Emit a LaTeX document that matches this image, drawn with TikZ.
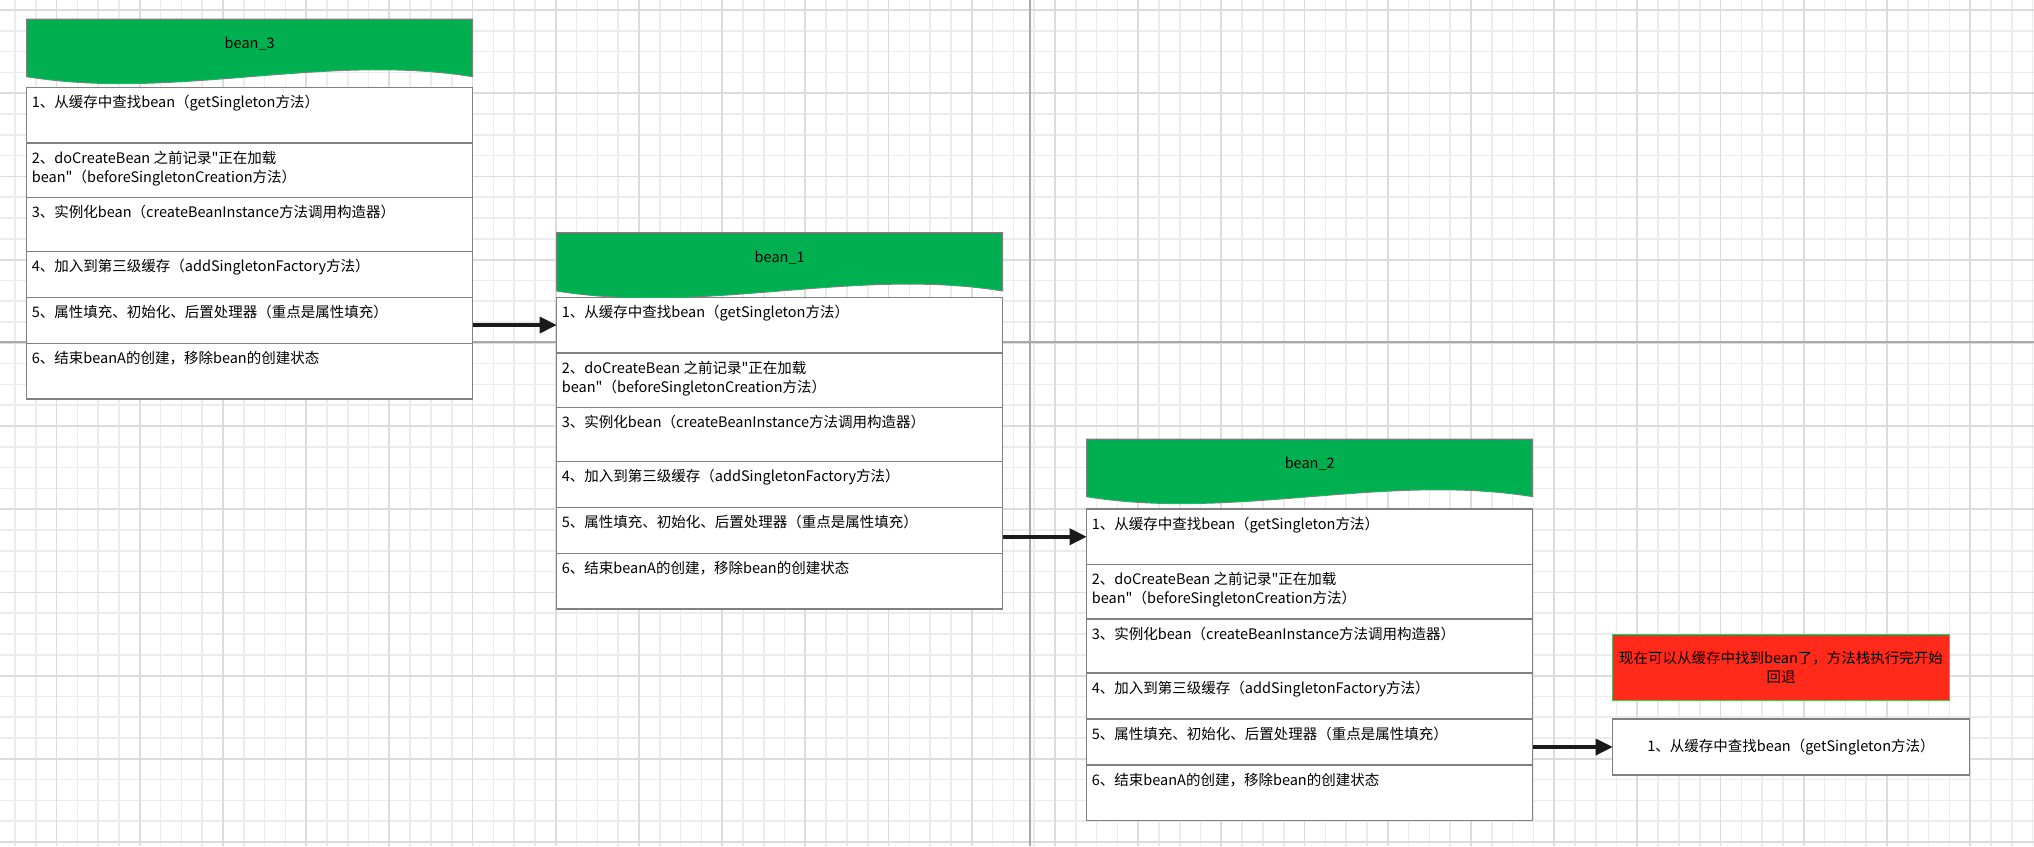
\documentclass[tikz,border=0pt]{standalone}
\usepackage{fontspec}
\setmainfont{Noto Sans CJK SC}
\newfontfamily\zhfont{Noto Sans CJK SC}
\usetikzlibrary{arrows.meta,calc}
\definecolor{hdrgreen}{RGB}{0,176,80}
\definecolor{boxgray}{RGB}{128,128,128}
\definecolor{alertred}{RGB}{255,42,26}
\definecolor{alertedge}{RGB}{100,180,100}
\definecolor{gridminor}{RGB}{236,236,236}
\definecolor{gridmajor}{RGB}{220,220,220}
\definecolor{gridpage}{RGB}{170,170,170}
\definecolor{arrowblack}{RGB}{26,26,26}
\tikzset{
  rowbox/.style={draw=boxgray, line width=1.5pt, fill=white, minimum width=446pt, anchor=north west, inner sep=0pt, outer sep=0pt},
  rowtext/.style={anchor=north west, inner sep=0pt, align=left, font=\zhfont\fontsize{14.5}{19}\selectfont},
  hdrtext/.style={inner sep=0pt, font=\zhfont\fontsize{14.5}{19}\selectfont},
  hdrshape/.style={draw=boxgray, line width=1pt, fill=hdrgreen},
  flow/.style={draw=arrowblack, line width=3.5pt, -{Triangle[length=17pt,width=16pt]}},
  gminor/.style={draw=gridminor, line width=1.6pt},
  gmajor/.style={draw=gridmajor, line width=1.8pt},
  gpage/.style={draw=gridpage, line width=2pt},
  alertbox/.style={draw=alertedge, line width=1pt, fill=alertred, minimum width=336.6pt, minimum height=66.4pt, inner sep=0pt, align=center, font=\zhfont\fontsize{14.5}{19}\selectfont},
  endbox/.style={draw=boxgray, line width=1.5pt, fill=white, minimum width=356.6pt, minimum height=56pt, inner sep=0pt, outer sep=0pt, font=\zhfont\fontsize{14.5}{19}\selectfont}
}
\newcommand{\beanstack}[6]{%
  \pgfmathsetmacro\bsR{#2+446}%
  \pgfmathsetmacro\bsA{#2+446-148.7}%
  \pgfmathsetmacro\bsB{#2+148.7}%
  \pgfmathsetmacro\bsU{#4-24}%
  \pgfmathsetmacro\bsD{#4+24}%
  \pgfmathsetmacro\bsC{#2+223}%
  \pgfmathsetmacro\bsT{#3+25}%
  \draw[hdrshape] (#2,#3) -- (\bsR,#3) -- (\bsR,#4) .. controls (\bsA,\bsU) and (\bsB,\bsD) .. (#2,#4) -- cycle;
  \node[hdrtext] (#1h) at (\bsC,\bsT) {#6};
  \node[rowbox, minimum height=55.5pt] (#1r1) at (#2,#5) {};
  \node[rowbox, minimum height=54.5pt] (#1r2) at (#1r1.south west) {};
  \node[rowbox, minimum height=54pt] (#1r3) at (#1r2.south west) {};
  \node[rowbox, minimum height=46pt] (#1r4) at (#1r3.south west) {};
  \node[rowbox, minimum height=46pt] (#1r5) at (#1r4.south west) {};
  \node[rowbox, minimum height=55.5pt] (#1r6) at (#1r5.south west) {};
  \node[rowtext] (#1t1) at ($(#1r1.north west)+(5,8)$) {1、从缓存中查找bean（getSingleton方法）};
  \node[rowtext] (#1t2) at ($(#1r2.north west)+(5,8)$) {2、doCreateBean 之前记录"正在加载\\bean"（beforeSingletonCreation方法）};
  \node[rowtext] (#1t3) at ($(#1r3.north west)+(5,8)$) {3、实例化bean（createBeanInstance方法调用构造器）};
  \node[rowtext] (#1t4) at ($(#1r4.north west)+(5,8)$) {4、加入到第三级缓存（addSingletonFactory方法）};
  \node[rowtext] (#1t5) at ($(#1r5.north west)+(5,8)$) {5、属性填充、初始化、后置处理器（重点是属性填充）};
  \node[rowtext] (#1t6) at ($(#1r6.north west)+(5,8)$) {6、结束beanA的创建，移除bean的创建状态};
}
\begin{document}
\begin{tikzpicture}[x=1pt,y=-1pt]
  \useasboundingbox (0,0) rectangle (2034,846);
  \fill[white] (0,0) rectangle (2034,846);
  % background grid
  \foreach \i in {0,...,98} {\draw[gminor] ({-5.9+20.8*\i},0) -- ({-5.9+20.8*\i},846);}
  \foreach \j in {0,...,40} {\draw[gminor] (0,{10+20.8*\j}) -- (2034,{10+20.8*\j});}
  \foreach \i in {0,...,23} {\draw[gmajor] ({56.5+83.2*\i},0) -- ({56.5+83.2*\i},846);}
  \foreach \j in {0,...,10} {\draw[gmajor] (0,{10+83.2*\j}) -- (2034,{10+83.2*\j});}
  \draw[gpage] (1030,0) -- (1030,846);
  \draw[gpage] (0,342) -- (2034,342);
  % stacks
  \beanstack{b3}{26.7}{19}{76.7}{87.3}{bean\_3}
  \beanstack{b1}{556.7}{232.7}{291}{297.3}{bean\_1}
  \beanstack{b2}{1086.7}{439}{496.7}{509}{bean\_2}
  % alert and final box
  \node[alertbox] (alert) at (1781,667.5) {现在可以从缓存中找到bean了，方法栈执行完开始\\回退};
  \node[endbox] (found) at (1791,747) {1、从缓存中查找bean（getSingleton方法）};
  % connectors
  \draw[flow] (b1r1.west -| b3r5.east) -- (b1r1.west);
  \draw[flow] (b2r1.west -| b1r5.east) -- (b2r1.west);
  \draw[flow] (found.west -| b2r5.east) -- (found.west);
\end{tikzpicture}
\end{document}
